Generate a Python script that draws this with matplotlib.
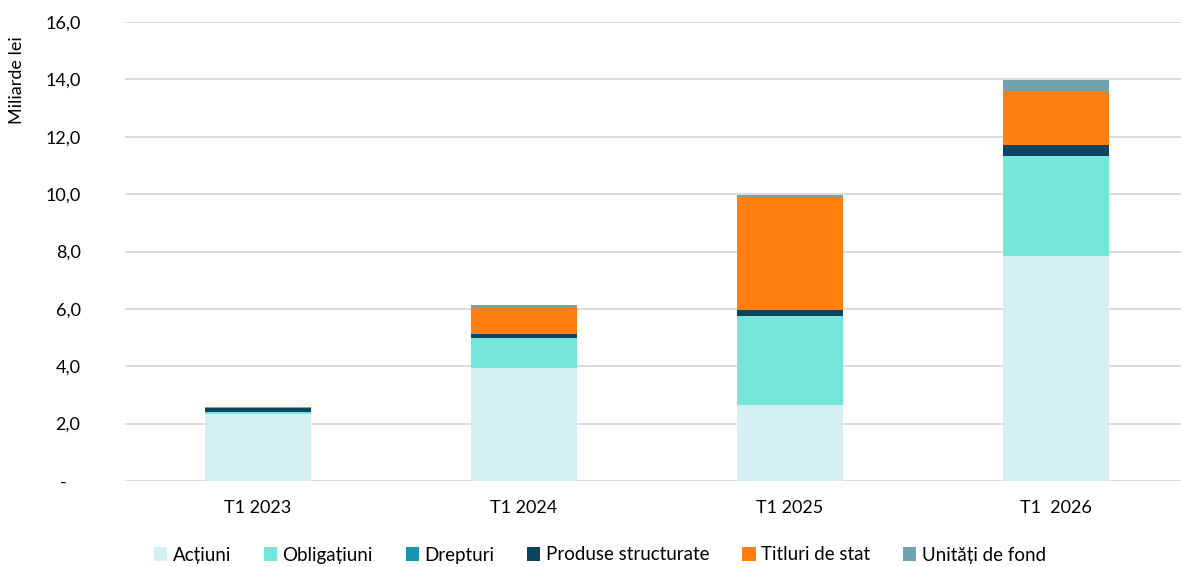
import matplotlib
matplotlib.use('Agg')
import matplotlib.pyplot as plt
import numpy as np
from matplotlib.ticker import FuncFormatter

plt.rcParams['font.family'] = ['Lato', 'DejaVu Sans']

categories = ['T1 2023', 'T1 2024', 'T1 2025', 'T1  2026']
series = ['Acțiuni', 'Obligațiuni', 'Drepturi', 'Produse structurate',
          'Titluri de stat', 'Unități de fond']
actiuni = [2.35, 3.94, 2.66, 7.84]
obligatiuni = [0.04, 1.06, 3.09, 3.50]
drepturi = [0.00, 0.00, 0.00, 0.00]
produse = [0.14, 0.14, 0.21, 0.38]
titluri = [0.06, 0.93, 3.95, 1.87]
unitati = [0.00, 0.06, 0.07, 0.39]
colors = ['#d4f0f3', '#76e6db', '#1994b0', '#0b4560', '#ff8010', '#6fa3af']

values = [actiuni, obligatiuni, drepturi, produse, titluri, unitati]

fig = plt.figure(figsize=(11.81, 5.67), dpi=100)
ax = fig.add_axes([125 / 1181, 1 - 481 / 567, 1 - 125 / 1181, (481 - 22) / 567])

x = np.arange(len(categories))
bottom = np.zeros(len(categories))
for name, vals, c in zip(series, values, colors):
    ax.bar(x, vals, 0.4, bottom=bottom, color=c, label=name, zorder=3)
    bottom += np.array(vals)

ax.set_ylim(0, 16)
ax.set_xlim(-0.5, (1181 - 258) / 266)
ax.set_yticks(np.arange(0, 17, 2))
ax.yaxis.set_major_formatter(FuncFormatter(
    lambda v, p: '-   ' if v == 0 else f'{v:.1f}'.replace('.', ',')))
ax.set_xticks(x)
ax.set_xticklabels(categories)
ax.grid(axis='y', color='#d9d9d9', linewidth=1.3, zorder=0)
for s in ax.spines.values():
    s.set_visible(False)
ax.tick_params(axis='y', length=0, pad=32, labelsize=13)
ax.tick_params(axis='x', length=0, pad=14, labelsize=13)

fig.text(17 / 1181, 1 - 80 / 567, 'Miliarde lei', rotation=90,
         ha='center', va='center', fontsize=13)

fig.legend(loc='center', bbox_to_anchor=(0.508, 1 - 555 / 567), ncol=6,
           frameon=False, fontsize=13.5, handlelength=0.7, handleheight=0.7,
           handletextpad=0.3, columnspacing=1.75)

fig.savefig('out.png', dpi=100)
